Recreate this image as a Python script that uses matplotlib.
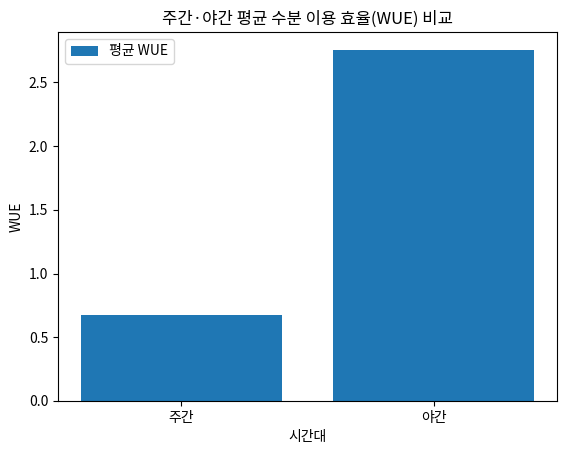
import matplotlib
matplotlib.use("Agg")
import matplotlib.pyplot as plt

plt.rcParams['font.family'] = ['Noto Sans CJK KR', 'DejaVu Sans']

categories = ['주간', '야간']
wue_values = [0.672, 2.757]

fig = plt.figure(figsize=(5.64, 4.54), dpi=100)
ax = fig.add_axes([58/564, 53/454, 499/564, 369/454])
ax.bar(categories, wue_values, color='#1f77b4', label='평균 WUE')
ax.set_title('주간·야간 평균 수분 이용 효율(WUE) 비교')
ax.set_xlabel('시간대')
ax.set_ylabel('WUE')
ax.legend(loc='upper left')
fig.savefig('out.png', dpi=100)
